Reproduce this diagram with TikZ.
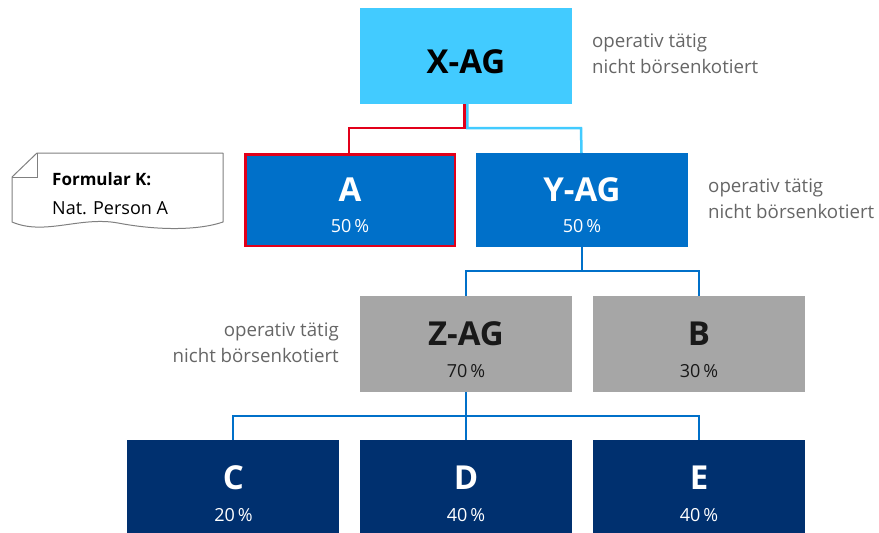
\documentclass[tikz,border=0pt]{standalone}
\usepackage{fontspec}
\setmainfont{Open Sans}
\definecolor{cyanbox}{HTML}{42CBFF}
\definecolor{bluebox}{HTML}{0070C9}
\definecolor{graybox}{HTML}{A6A6A6}
\definecolor{navybox}{HTML}{00306F}
\definecolor{redline}{HTML}{E2001A}
\definecolor{sidegray}{HTML}{666666}
\definecolor{docgray}{HTML}{808080}
\begin{document}
\begin{tikzpicture}[x=1pt,y=-1pt,
  box/.style={draw=none,inner sep=0pt,outer sep=0pt,minimum width=212pt,minimum height=#1,anchor=north west},
  box/.default=95pt,
  title/.style={anchor=base,inner sep=0pt,font=\fontsize{33}{36}\selectfont\bfseries},
  pct/.style={anchor=base,inner sep=0pt,font=\fontsize{18}{20}\selectfont},
  side/.style={inner sep=0pt,text=sidegray,font=\fontsize{18.7}{25.5}\selectfont},
  conn/.style={line width=2.5pt}
]
\useasboundingbox (0,0) rectangle (879,533);
% boxes
\node[box=96pt,fill=cyanbox] (xag) at (360,8) {};
\node[box=94pt,fill=bluebox] (a) at (244,153) {};
\draw[redline,line width=2.5pt] (245.25,154.25) rectangle (454.75,245.75);
\node[box=94pt,fill=bluebox] (yag) at (476,153) {};
\node[box=96pt,fill=graybox] (zag) at (360,296) {};
\node[box=96pt,fill=graybox] (b) at (593,296) {};
\node[box=94pt,fill=navybox] (c) at (127,440) {};
\node[box=94pt,fill=navybox] (d) at (360,440) {};
\node[box=94pt,fill=navybox] (e) at (593,440) {};
% texts
\node[title,text=black] (xagt) at (466,73) {X-AG};
\node[title,text=white] (at) at (350,201) {A};
\node[pct,text=white] (ap) at (350,232) {50\,\%};
\node[title,text=white] (yagt) at (582,201) {Y-AG};
\node[pct,text=white] (yagp) at (582,232) {50\,\%};
\node[title,text=black!90] (zagt) at (466,345) {Z-AG};
\node[pct,text=black!90] (zagp) at (466,377) {70\,\%};
\node[title,text=black!90] (bt) at (699,345) {B};
\node[pct,text=black!90] (bp) at (699,377) {30\,\%};
\node[title,text=white] (ct) at (233.5,489) {C};
\node[pct,text=white] (cp) at (233.5,521) {20\,\%};
\node[title,text=white] (dt) at (466,489) {D};
\node[pct,text=white] (dp) at (466,521) {40\,\%};
\node[title,text=white] (et) at (699,489) {E};
\node[pct,text=white] (ep) at (699,521) {40\,\%};
% side notes (anchor = baseline of last line)
\node[side,anchor=base west,align=left] (s1) at (592,73) {operativ tätig\\nicht börsenkotiert};
\node[side,anchor=base west,align=left] (s2) at (708,218) {operativ tätig\\nicht börsenkotiert};
\node[side,anchor=base east,align=right] (s3) at (339,362) {operativ tätig\\nicht börsenkotiert};
% connectors
\draw[conn,redline] ([xshift=-1.3pt]xag.south) |- (349,128) -- ([xshift=-1pt]a.north);
\draw[conn,cyanbox] ([xshift=1.3pt]xag.south) |- (581,128) -- ([xshift=-0.5pt]yag.north);
\coordinate (yj) at (582,271);
\draw[conn,bluebox] (yag.south) -- (yj);
\draw[conn,bluebox] (zag.north) |- (yj) -| (b.north);
\coordinate (zj) at (466,416);
\draw[conn,bluebox] (zag.south) -- (d.north);
\draw[conn,bluebox] (c.north) |- (zj) -| (e.north);
% document shape
\draw[docgray,line width=1pt,line join=round] (37,153) -- (223,153) -- (223,222)
  .. controls (200,230) and (160,231) .. (118,223)
  .. controls (80,216) and (45,236) .. (12,222) -- (12,177) -- cycle;
\draw[docgray,line width=1pt] (37,153) -- (37,177) -- (12,177);
\node[inner sep=0pt,anchor=base west,font=\fontsize{17}{20}\selectfont\bfseries] (fk) at (52,185) {Formular K:};
\node[inner sep=0pt,anchor=base west,font=\fontsize{18}{20}\selectfont] (np) at (52,214) {Nat. Person A};
\end{tikzpicture}
\end{document}
